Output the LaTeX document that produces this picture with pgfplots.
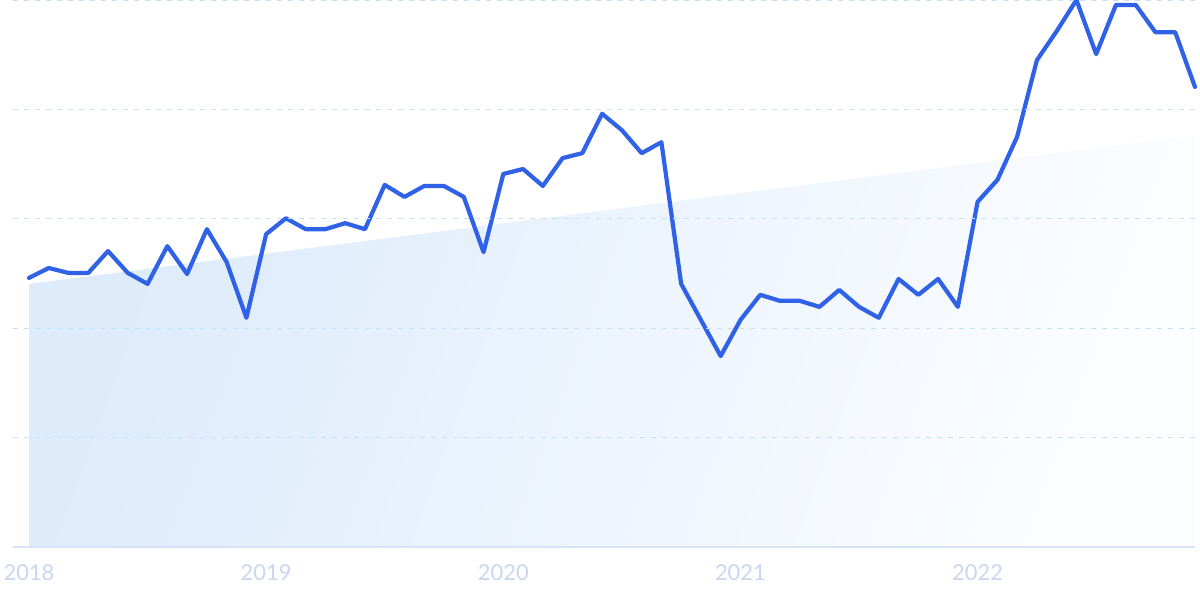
\documentclass[border=0pt]{standalone}
\usepackage{fontspec}
\setmainfont{Lato}
\usepackage{pgfplots}
\pgfplotsset{compat=1.18}

\definecolor{trendline}{RGB}{47,98,230}
\definecolor{gridblue}{RGB}{196,225,248}
\definecolor{axisblue}{RGB}{214,228,246}
\definecolor{ticktext}{RGB}{200,214,242}
\definecolor{fillA}{RGB}{221,235,251}
\definecolor{fillB}{RGB}{252,253,255}

\begin{document}
\begin{tikzpicture}
\useasboundingbox (-13bp,-52bp) rectangle (1187bp,547bp);
\begin{axis}[
    at={(0,0)}, anchor=south west,
    scale only axis,
    width=1182bp, height=547bp,
    xmin=-0.81, xmax=59,
    ymin=0, ymax=100,
    axis on top,
    separate axis lines,
    axis x line*=bottom,
    axis y line*=left,
    x axis line style={draw=axisblue, line width=1.2bp, -},
    y axis line style={draw=none},
    xtick={0,12,24,36,48},
    xticklabels={2018,2019,2020,2021,2022},
    xticklabel style={anchor=center, yshift=-25.5bp, text=ticktext,
        font=\fontsize{22}{24}\selectfont},
    ytick={0,20,40,60,80,100},
    yticklabels={},
    major tick length=0,
    ymajorgrids,
    major grid style={draw=gridblue, line width=0.8bp, dash pattern=on 5bp off 6bp},
    /pgf/number format/assume math mode=true,
    clip=false,
]
% trend area
\addplot[draw=none, top color=fillA, bottom color=fillB, shading angle=70]
    coordinates {(0,0) (0,48.1) (59,75.3) (59,0)} -- cycle;
% monthly values
\addplot[trendline, line width=4.2bp, line join=round, line cap=round]
    coordinates {
    (0,49.2) (1,51.0) (2,50.1) (3,50.1) (4,54.1) (5,50.1) (6,48.1) (7,55.0)
    (8,49.9) (9,58.1) (10,52.1) (11,41.9) (12,57.2) (13,60.1) (14,58.1) (15,58.1)
    (16,59.2) (17,58.1) (18,66.2) (19,64.0) (20,66.0) (21,66.0) (22,64.0) (23,53.9)
    (24,68.2) (25,69.1) (26,66.0) (27,71.1) (28,72.0) (29,79.2) (30,76.2) (31,72.0)
    (32,74.0) (33,48.1) (34,41.5) (35,34.9) (36,41.5) (37,46.1) (38,45.0) (39,45.0)
    (40,43.9) (41,47.0) (42,43.9) (43,41.9) (44,49.0) (45,46.1) (46,49.0) (47,43.9)
    (48,63.1) (49,67.1) (50,75.0) (51,89.0) (52,94.3) (53,100) (54,90.1) (55,99.1)
    (56,99.1) (57,94.1) (58,94.1) (59,84.1)
    };
\end{axis}
\end{tikzpicture}
\end{document}
